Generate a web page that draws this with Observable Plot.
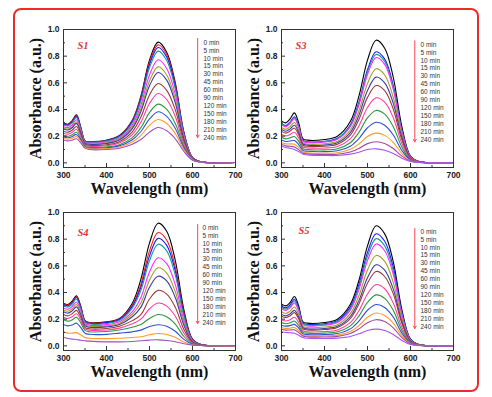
<!DOCTYPE html>
<html><head><meta charset="utf-8">
<script src="https://cdn.jsdelivr.net/npm/d3@7"></script>
<script src="https://cdn.jsdelivr.net/npm/@observablehq/plot@0.6"></script>
<style>
html,body{margin:0;padding:0;background:#fff;}
#wrap{position:relative;width:492px;height:397px;background:#fff;overflow:hidden;}
#border{position:absolute;left:13px;top:8px;width:466px;height:384px;box-sizing:border-box;border:2px solid #ee2b2b;border-radius:8px;}
.panel{position:absolute;}
</style></head><body>
<div id="wrap"><div id="border"></div></div>
<script>
const wavelengths = [300,310,320,330,340,350,360,400,430,460,480,500,520,540,560,580,600,620,700];
const times = ["0 min","5 min","10 min","15 min","30 min","45 min","60 min","90 min","120 min","150 min","180 min","210 min","240 min"];
const yTicks = [0, 0.2, 0.4, 0.6, 0.8, 1.0];
const yMinorTicks = [0.1, 0.3, 0.5, 0.7, 0.9];
const xTicks = [300, 400, 500, 600, 700];
const xMinorTicks = [350, 450, 550, 650];

const s1Absorbance = [
[.30,.29,.315,.36,.27,.165,.16,.17,.205,.32,.50,.77,.905,.83,.60,.23,.04,.008,.003],
[.296,.286,.31,.354,.266,.163,.158,.168,.202,.314,.49,.753,.885,.812,.587,.225,.039,.008,.003],
[.292,.282,.306,.349,.263,.162,.156,.166,.199,.309,.48,.737,.865,.793,.574,.221,.039,.008,.003],
[.286,.277,.30,.341,.257,.159,.154,.163,.195,.301,.466,.713,.838,.768,.556,.215,.038,.008,.003],
[.273,.264,.285,.323,.245,.154,.148,.156,.185,.283,.433,.659,.773,.708,.513,.20,.036,.007,.003],
[.262,.254,.273,.308,.235,.149,.143,.15,.178,.268,.406,.614,.72,.659,.479,.188,.034,.007,.003],
[.254,.246,.263,.296,.227,.145,.139,.145,.171,.256,.384,.578,.677,.62,.45,.178,.033,.007,.002],
[.237,.23,.245,.273,.212,.138,.131,.136,.159,.233,.343,.509,.595,.544,.397,.16,.03,.006,.002],
[.222,.215,.228,.252,.198,.132,.124,.128,.148,.212,.304,.445,.52,.475,.347,.143,.028,.006,.002],
[.205,.199,.21,.229,.183,.125,.116,.119,.136,.189,.264,.377,.44,.401,.295,.125,.025,.006,.002],
[.194,.188,.197,.213,.172,.12,.111,.113,.127,.173,.235,.329,.383,.349,.257,.112,.024,.005,.002],
[.182,.177,.184,.197,.161,.115,.106,.107,.119,.157,.206,.281,.325,.295,.219,.099,.022,.005,.002],
[.17,.165,.17,.18,.15,.11,.10,.10,.11,.14,.175,.23,.265,.24,.18,.085,.02,.005,.002]
];
const s3Absorbance = [
[.315,.30,.33,.375,.30,.18,.17,.175,.20,.31,.50,.77,.92,.86,.64,.27,.05,.01,.003],
[.295,.28,.306,.346,.277,.168,.158,.162,.184,.284,.455,.698,.833,.778,.579,.245,.046,.009,.003],
[.29,.276,.301,.339,.272,.165,.156,.159,.181,.278,.445,.682,.813,.76,.565,.239,.045,.009,.003],
[.285,.27,.295,.331,.266,.162,.152,.156,.177,.271,.433,.663,.79,.738,.549,.232,.044,.009,.003],
[.265,.251,.272,.303,.243,.15,.141,.143,.162,.246,.39,.594,.706,.659,.49,.208,.039,.008,.002],
[.25,.237,.255,.282,.227,.141,.133,.134,.151,.227,.357,.542,.643,.60,.446,.19,.036,.008,.002],
[.236,.223,.238,.26,.21,.132,.124,.125,.14,.208,.325,.491,.58,.541,.402,.172,.033,.007,.002],
[.214,.202,.213,.229,.186,.119,.112,.111,.123,.18,.277,.415,.488,.455,.338,.145,.029,.006,.002],
[.192,.18,.188,.197,.161,.106,.099,.097,.106,.151,.228,.337,.393,.365,.271,.118,.024,.005,.001],
[.171,.16,.164,.167,.137,.093,.087,.084,.09,.125,.182,.263,.304,.282,.209,.092,.02,.005,.001],
[.153,.142,.142,.14,.116,.082,.076,.072,.076,.101,.141,.197,.223,.206,.153,.069,.016,.004,.001],
[.137,.127,.124,.118,.099,.072,.067,.063,.064,.081,.107,.144,.158,.145,.107,.05,.013,.003,.001],
[.125,.115,.11,.10,.085,.065,.06,.055,.055,.065,.08,.10,.105,.095,.07,.035,.01,.003,0]
];
const s4Absorbance = [
[.32,.31,.335,.375,.30,.19,.175,.18,.205,.32,.50,.77,.92,.86,.64,.27,.05,.01,.003],
[.315,.305,.329,.368,.295,.187,.172,.177,.202,.306,.463,.712,.85,.794,.591,.25,.046,.009,.003],
[.31,.30,.324,.362,.29,.184,.169,.174,.198,.296,.44,.675,.806,.753,.561,.237,.044,.009,.003],
[.30,.29,.312,.349,.279,.178,.164,.168,.191,.283,.416,.638,.762,.712,.53,.224,.042,.008,.002],
[.284,.274,.295,.329,.264,.169,.155,.159,.181,.257,.363,.554,.66,.616,.459,.194,.037,.007,.002],
[.269,.259,.278,.31,.248,.16,.147,.15,.17,.237,.323,.492,.585,.546,.406,.172,.033,.006,.002],
[.255,.245,.262,.292,.234,.151,.139,.142,.16,.218,.29,.439,.522,.487,.362,.154,.03,.006,.002],
[.235,.225,.24,.266,.214,.139,.128,.13,.147,.189,.234,.351,.416,.388,.289,.123,.024,.005,.001],
[.215,.205,.218,.241,.194,.128,.118,.119,.133,.165,.20,.278,.321,.298,.222,.095,.019,.004,.001],
[.195,.185,.195,.215,.174,.116,.106,.107,.119,.14,.16,.205,.235,.218,.162,.07,.015,.003,.001],
[.16,.15,.156,.17,.138,.095,.087,.086,.095,.105,.118,.145,.158,.147,.109,.048,.011,.003,.001],
[.105,.095,.095,.099,.083,.062,.057,.054,.057,.063,.068,.083,.093,.085,.064,.029,.007,.002,0],
[.065,.055,.05,.048,.042,.038,.035,.03,.03,.033,.038,.043,.045,.04,.03,.015,.005,.002,0]
];
const s5Absorbance = [
[.315,.30,.325,.37,.30,.18,.17,.175,.20,.31,.49,.75,.90,.84,.63,.27,.05,.01,.003],
[.299,.285,.308,.349,.283,.171,.161,.166,.189,.292,.459,.701,.84,.784,.588,.252,.047,.009,.003],
[.289,.275,.297,.336,.273,.165,.156,.16,.182,.28,.44,.671,.804,.75,.562,.241,.045,.009,.003],
[.278,.265,.285,.322,.262,.159,.15,.154,.175,.268,.42,.639,.764,.713,.535,.23,.043,.008,.002],
[.255,.243,.26,.291,.237,.146,.138,.141,.159,.241,.376,.568,.678,.633,.474,.204,.039,.007,.002],
[.236,.225,.239,.266,.217,.136,.127,.13,.146,.22,.339,.511,.608,.567,.425,.183,.035,.007,.002],
[.222,.212,.225,.249,.203,.128,.12,.122,.137,.204,.314,.47,.558,.52,.39,.169,.032,.006,.002],
[.196,.186,.196,.214,.175,.113,.106,.107,.119,.174,.263,.389,.46,.428,.32,.139,.027,.005,.001],
[.175,.166,.173,.186,.153,.101,.095,.095,.105,.15,.223,.326,.382,.356,.266,.116,.023,.005,.001],
[.155,.148,.152,.161,.133,.09,.084,.084,.092,.127,.186,.267,.31,.288,.215,.095,.02,.004,.001],
[.138,.131,.133,.138,.114,.08,.075,.074,.08,.107,.152,.214,.246,.228,.17,.076,.016,.004,.001],
[.124,.118,.119,.12,.10,.073,.067,.066,.071,.092,.127,.173,.196,.182,.135,.061,.014,.003,.001],
[.105,.10,.098,.095,.08,.062,.057,.055,.058,.07,.09,.115,.125,.115,.085,.04,.01,.003,0]
];

const paletteA = ["#000000","#ff1a1a","#1a1aff","#1a9a9a","#ff2aff","#a0a02a","#3a3aa8","#9a3a3a","#ff3fa0","#2a9a3a","#3050d0","#ff9a2a","#a050c0"];
const paletteB = ["#000000","#1a1aff","#1a9a9a","#ff2aff","#a0a02a","#3a3aa8","#9a3a3a","#ff3fa0","#2a9a3a","#3050d0","#ff9a2a","#a04aa0","#a855f7"];

const panels = [
  {name:"S1", rows:s1Absorbance, palette:paletteA, left:0, top:0, ldx:14, ldy:12, gdx:-32, gdy:9.7, arrow:{x:612, y1:0.933, y2:0.19}},
  {name:"S3", rows:s3Absorbance, palette:paletteB, left:218, top:0, ldx:14, ldy:12, gdx:-33, gdy:11.7, arrow:{x:610, y1:0.915, y2:0.158}},
  {name:"S4", rows:s4Absorbance, palette:paletteA, left:0, top:183, ldx:14, ldy:16, gdx:-33, gdy:11.7, arrow:{x:612, y1:0.91, y2:0.167}},
  {name:"S5", rows:s5Absorbance, palette:paletteB, left:218, top:183, ldx:17, ldy:14, gdx:-33, gdy:15.7, arrow:{x:610, y1:0.88, y2:0.13}}
];

const wrap = document.getElementById("wrap");
const tickFont = {fontSize: 8.5, fontWeight: "bold", fontFamily: "Liberation Sans", fill: "#222", stroke: "#333", label: null};

for (const p of panels) {
  const data = p.rows.flatMap((r, i) => r.map((v, j) => ({t: times[i], w: wavelengths[j], a: v})));
  const chart = Plot.plot({
    width: 240, height: 210,
    marginLeft: 63, marginRight: 5, marginTop: 29, marginBottom: 43,
    style: {background: "transparent", overflow: "visible", fontFamily: "Liberation Sans"},
    x: {domain: [300, 700], label: null},
    y: {domain: [-0.035, 1.0], label: null},
    color: {domain: times, range: p.palette},
    marks: [
      Plot.line(data, {x: "w", y: "a", z: "t", stroke: "t", strokeWidth: 1.1, curve: "catmull-rom"}),
      Plot.frame({stroke: "#333", strokeWidth: 1}),
      Plot.axisY(yTicks, {...tickFont, tickSize: -4, tickPadding: 8, tickFormat: d3.format(".1f")}),
      Plot.axisY(yMinorTicks, {...tickFont, tickSize: -2, tickFormat: () => ""}),
      Plot.axisX(xTicks, {...tickFont, tickSize: -4, tickPadding: 8.5, tickFormat: d3.format("d")}),
      Plot.axisX(xMinorTicks, {...tickFont, tickSize: -2, tickFormat: () => ""}),
      Plot.text(["Absorbance (a.u.)"], {frameAnchor: "left", textAnchor: "middle", rotate: -90, dx: -28, fontSize: 16, fontWeight: "bold", fontFamily: "Liberation Serif", fill: "#111"}),
      Plot.text(["Wavelength (nm)"], {frameAnchor: "bottom", textAnchor: "middle", dy: 26, fontSize: 16, fontWeight: "bold", fontFamily: "Liberation Serif", fill: "#111"}),
      Plot.text([p.name], {frameAnchor: "top-left", dx: p.ldx, dy: p.ldy, textAnchor: "start", fontSize: 10.5, fontStyle: "italic", fontWeight: "bold", fontFamily: "Liberation Serif", fill: "#e8333a"}),
      Plot.text([times.join("\n")], {frameAnchor: "top-right", dx: p.gdx, dy: p.gdy, textAnchor: "start", lineAnchor: "top", lineHeight: 1.215, fontSize: 6.5, fontFamily: "Liberation Sans", fill: "#333"}),
      Plot.arrow([p.arrow], {x1: "x", y1: "y1", x2: "x", y2: "y2", stroke: "#f45", strokeWidth: 1, headLength: 4, insetStart: 0, insetEnd: 0})
    ]
  });
  chart.classList.add("panel");
  chart.style.left = p.left + "px";
  chart.style.top = p.top + "px";
  wrap.appendChild(chart);
}
</script>
</body></html>
